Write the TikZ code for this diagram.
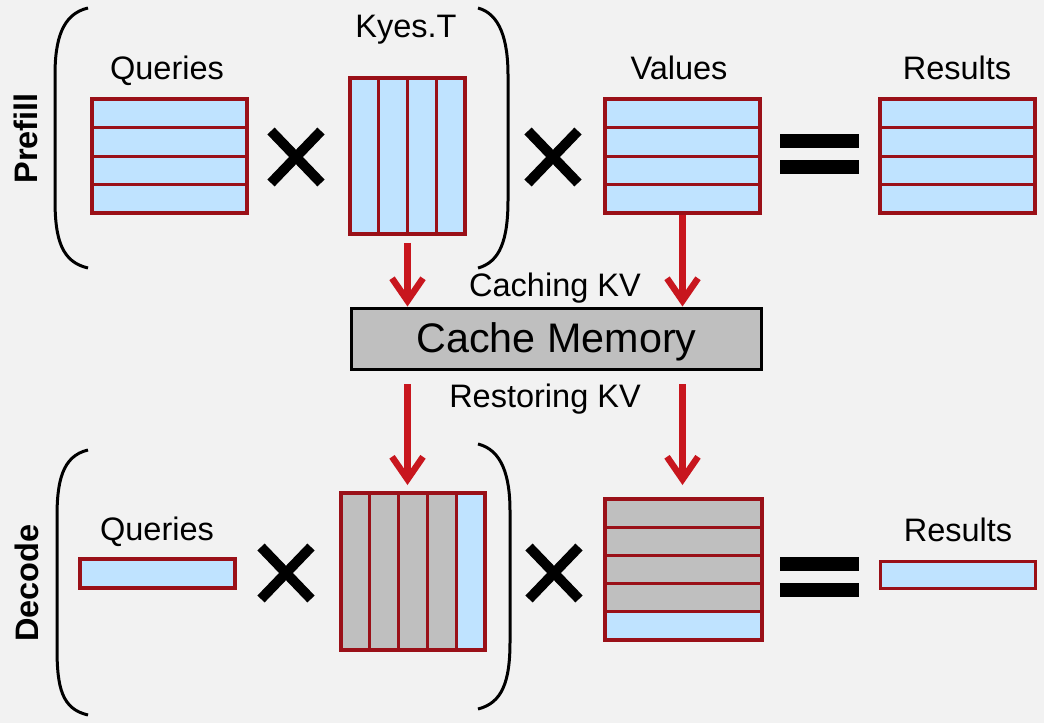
\documentclass[tikz,border=0pt]{standalone}
\usepackage{fontspec}
\setmainfont{Liberation Sans}
\usetikzlibrary{arrows.meta,calc,positioning}
\definecolor{cellblue}{HTML}{BFE3FF}
\definecolor{cellred}{HTML}{9A1018}
\definecolor{arrred}{HTML}{C8161E}
\definecolor{cachegray}{HTML}{BFBFBF}
\definecolor{bggray}{HTML}{F2F2F2}
\tikzset{matrixbox/.style = {draw=cellred, fill=cellblue, line width=0.07cm, inner sep=0pt, outer sep=0pt}}
\tikzset{widemat/.style = {matrixbox, minimum width=3.1cm, minimum height=2.28cm}}
\tikzset{cellline/.style = {draw=cellred, line width=0.06cm}}
\tikzset{heading/.style = {font=\fontsize{18.5}{22}\selectfont, anchor=base, inner sep=0pt}}
\tikzset{stage/.style = {heading, font=\fontsize{18.5}{22}\selectfont\bfseries, rotate=90}}
\tikzset{kvarrow/.style = {draw=arrred, line width=0.13cm, -{Straight Barb[length=0.45cm, width=0.62cm]}}}
\tikzset{crossline/.style = {line width=0.2cm}}
\tikzset{paren/.style = {line width=0.06cm}}

\begin{document}
\begin{tikzpicture}[x=0.02cm, y=-0.02cm]
  \fill[bggray] (0,0) rectangle (1044,723);
  \useasboundingbox (0,0) rectangle (1044,723);

  % prefill row
  \node [widemat] (qp) at (169.5,156) {};
  \node [matrixbox, minimum width=2.3cm, minimum height=3.12cm] (kp) at (407.5,156) {};
  \node [widemat] (vp) at (682.5,156) {};
  \node [widemat] (rp) at (957.5,156) {};
  \foreach \m in {qp,vp,rp}
    \foreach \i in {1,2,3}
      \draw[cellline] ($(\m.north west)!\i/4!(\m.south west)$) -- ($(\m.north east)!\i/4!(\m.south east)$);
  \foreach \i in {1,2,3}
    \draw[cellline] ($(kp.north west)!\i/4!(kp.north east)$) -- ($(kp.south west)!\i/4!(kp.south east)$);

  \node [heading] (qplab) at (167,80) {Queries};
  \node [heading] (kplab) at (406,38) {Kyes.T};
  \node [heading] (vplab) at (679,80) {Values};
  \node [heading] (rplab) at (957,80) {Results};
  \node [stage] (prefill) at (37,138.5) {Prefill};

  % cache
  \node [draw, fill=cachegray, line width=0.06cm, minimum width=8.22cm, minimum height=1.24cm,
         text height=17pt, text depth=1.2pt, font=\fontsize{23.5}{28}\selectfont] (cache) at (556.5,339) {Cache Memory};
  \node [heading] (caching) at (555,296) {Caching KV};
  \node [heading] (restoring) at (545,407) {Restoring KV};

  % decode row
  \node [matrixbox, minimum width=3.1cm, minimum height=0.58cm] (qd) at (157.5,573.5) {};
  \node [matrixbox, fill=cachegray, minimum width=2.88cm, minimum height=3.14cm] (kd) at (413,571.5) {};
  \node [matrixbox, fill=cachegray, minimum width=3.14cm, minimum height=2.82cm] (vd) at (683.5,569.5) {};
  \node [matrixbox, minimum width=3.1cm, minimum height=0.54cm] (rd) at (958,575) {};
  \fill[cellblue] ($(kd.north west)!0.8!(kd.north east)$) rectangle (kd.south east);
  \fill[cellblue] ($(vd.north west)!0.8!(vd.south west)$) rectangle (vd.south east);
  \foreach \i in {1,...,4} {
    \draw[cellline] ($(kd.north west)!\i/5!(kd.north east)$) -- ($(kd.south west)!\i/5!(kd.south east)$);
    \draw[cellline] ($(vd.north west)!\i/5!(vd.south west)$) -- ($(vd.north east)!\i/5!(vd.south east)$);
  }
  \draw[cellline, line width=0.07cm] (kd.south west) rectangle (kd.north east);
  \draw[cellline, line width=0.07cm] (vd.south west) rectangle (vd.north east);

  \node [heading] (qdlab) at (157,540) {Queries};
  \node [heading] (rdlab) at (958,541) {Results};
  \node [stage] (decode) at (38,583) {Decode};

  % brackets
  \draw[paren] (88,8) .. controls (62,14) and (55,40) .. (55,75) -- (55,200) .. controls (55,240) and (62,262) .. (88,268);
  \draw[paren] (478,8) .. controls (500,14) and (508,40) .. (508,75) -- (508,200) .. controls (508,240) and (500,262) .. (478,268);
  \draw[paren] (88,450) .. controls (62,456) and (57,482) .. (57,517) -- (57,648) .. controls (57,688) and (62,709) .. (88,715);
  \draw[paren] (478,444) .. controls (502,450) and (510,476) .. (510,511) -- (510,642) .. controls (510,682) and (502,703) .. (478,709);

  % operators
  \foreach \p in {(296,157),(553,157),(286,573),(554,573)}
    \draw[crossline] \p +(-25,-26) -- +(25,26) \p +(-25,26) -- +(25,-26);
  \foreach \y in {134,160,557,583}
    \fill (780,\y) rectangle (859,\y+14);

  % kv flow
  \draw[kvarrow, shorten <=0.18cm] (kp.south) -- (kp.south |- cache.north);
  \draw[kvarrow, shorten <=0.04cm] (vp.south) -- (vp.south |- cache.north);
  \draw[kvarrow, shorten <=0.26cm, shorten >=0.16cm] (cache.south -| kp.south) -- (kd.north -| kp.south);
  \draw[kvarrow, shorten <=0.26cm, shorten >=0.28cm] (cache.south -| vp.south) -- (vd.north -| vp.south);
\end{tikzpicture}
\end{document}
